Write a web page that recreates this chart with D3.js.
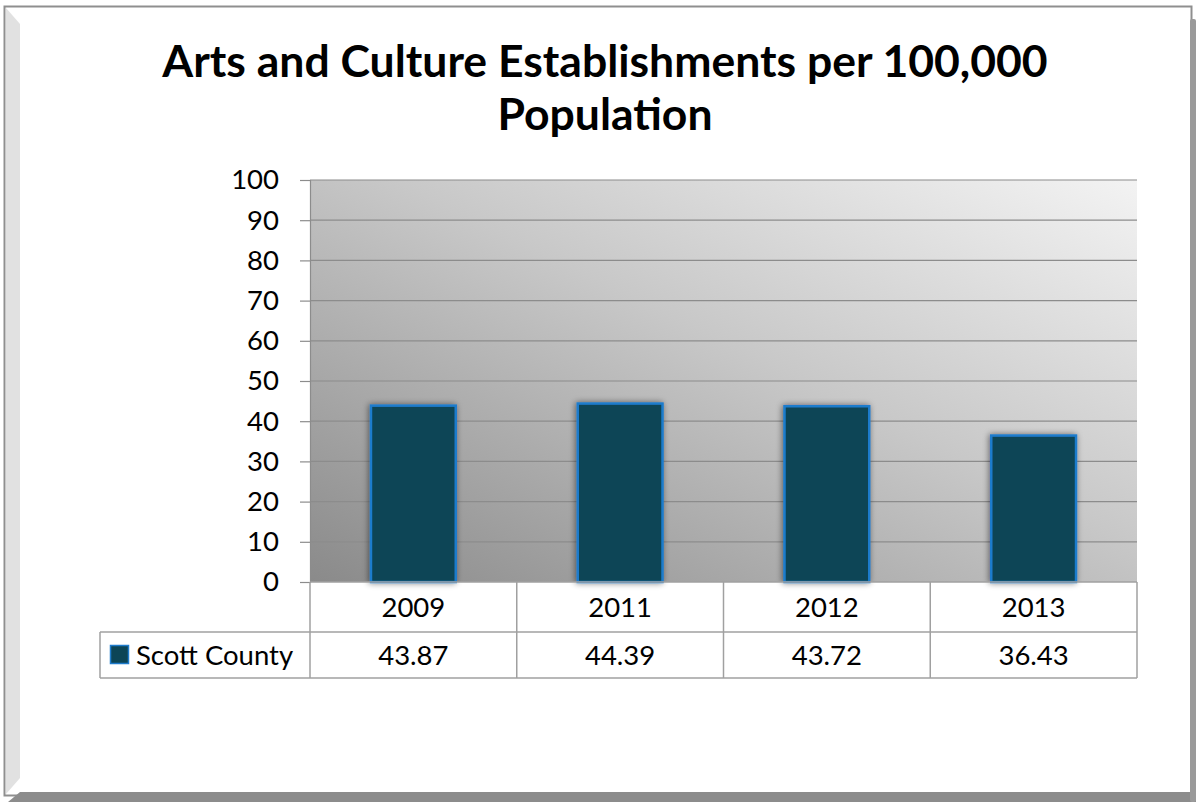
<!DOCTYPE html>
<html>
<head>
<meta charset="utf-8">
<script src="https://cdn.jsdelivr.net/npm/d3@7"></script>
<style>
  html, body { margin: 0; padding: 0; background: #ffffff; }
  svg { display: block; }
</style>
</head>
<body>
<svg id="chart" width="1196" height="802"></svg>
<script>
const titleLines = ["Arts and Culture Establishments per 100,000", "Population"];
const categories = ["2009", "2011", "2012", "2013"];
const seriesName = "Scott County";
const values = [43.87, 44.39, 43.72, 36.43];
const valueLabels = ["43.87", "44.39", "43.72", "36.43"];
const yTicks = [0, 10, 20, 30, 40, 50, 60, 70, 80, 90, 100];

const svg = d3.select("#chart");
const W = 1196, H = 802;
const font = "Lato, 'Open Sans', sans-serif";
const fs = 27.5;

// Frame
svg.append("rect").attr("x", 0).attr("y", 0).attr("width", W).attr("height", H).attr("fill", "#ffffff");
svg.append("rect").attr("x", 4.5).attr("y", 6.5).attr("width", 1187).attr("height", 789)
  .attr("fill", "#ffffff").attr("stroke", "#8f8f8f").attr("stroke-width", 2);
svg.append("polygon").attr("points", "6,8 20,24 20,778 6,794").attr("fill", "#e1e1e1");
svg.append("polygon").attr("points", "8,802 20,792 1196,792 1196,802").attr("fill", "#8c8c8c");
svg.append("rect").attr("x", 1190).attr("y", 19).attr("width", 6).attr("height", 783).attr("rx", 2).attr("fill", "#9a9a9a");

// Title
const title = svg.append("text").attr("text-anchor", "middle")
  .attr("font-family", font).attr("font-weight", "bold").attr("font-size", 44.5).attr("fill", "#000");
titleLines.forEach((t, i) => {
  title.append("tspan").attr("x", 605).attr("y", 77 + i * 53).text(t);
});

// Plot geometry
const plot = { left: 310, right: 1137, top: 180, bottom: 582 };
const x = d3.scaleBand().domain(categories).range([plot.left, plot.right]).paddingInner(0).paddingOuter(0);
const y = d3.scaleLinear().domain([0, 100]).range([plot.bottom, plot.top]);

// Gradient background
const defs = svg.append("defs");
const grad = defs.append("linearGradient").attr("id", "bg")
  .attr("x1", "0%").attr("y1", "100%").attr("x2", "100%").attr("y2", "0%");
grad.append("stop").attr("offset", "0%").attr("stop-color", "#8a8a8a");
grad.append("stop").attr("offset", "55%").attr("stop-color", "#c8c8c8");
grad.append("stop").attr("offset", "100%").attr("stop-color", "#f3f3f3");

const shadow = defs.append("filter").attr("id", "shadow").attr("x", "-20%").attr("y", "-20%").attr("width", "140%").attr("height", "140%");
shadow.append("feGaussianBlur").attr("in", "SourceAlpha").attr("stdDeviation", 3).attr("result", "b");
shadow.append("feOffset").attr("in", "b").attr("dx", -1).attr("dy", 0).attr("result", "o");
shadow.append("feComponentTransfer").attr("in", "o").attr("result", "o2")
  .append("feFuncA").attr("type", "linear").attr("slope", 0.5);
const m = shadow.append("feMerge");
m.append("feMergeNode").attr("in", "o2");
m.append("feMergeNode").attr("in", "SourceGraphic");

svg.append("rect").attr("x", plot.left).attr("y", plot.top)
  .attr("width", plot.right - plot.left).attr("height", plot.bottom - plot.top)
  .attr("fill", "url(#bg)");

// Gridlines
svg.append("g").selectAll("line").data(yTicks.filter(d => d > 0)).join("line")
  .attr("x1", plot.left).attr("x2", plot.right)
  .attr("y1", d => y(d)).attr("y2", d => y(d))
  .attr("stroke", "#8c8c8c").attr("stroke-width", 1.2);

// Y axis
const yAxis = d3.axisLeft(y).tickValues(yTicks).tickSize(10).tickPadding(21).tickFormat(d3.format("d"));
const ya = svg.append("g").attr("transform", `translate(${plot.left},0)`).call(yAxis);
ya.select(".domain").attr("stroke", "#8c8c8c").attr("stroke-width", 1.2);
ya.selectAll(".tick line").attr("stroke", "#8c8c8c").attr("stroke-width", 1.2);
ya.selectAll(".tick text").attr("font-family", font).attr("font-size", fs).attr("fill", "#000");

// Bars
const barW = x.bandwidth() * 0.41;
svg.append("g").selectAll("rect").data(values).join("rect")
  .attr("x", (d, i) => x(categories[i]) + (x.bandwidth() - barW) / 2)
  .attr("y", d => y(d))
  .attr("width", barW)
  .attr("height", d => y(0) - y(d))
  .attr("fill", "#0c4556")
  .attr("stroke", "#1e7bcc").attr("stroke-width", 2.5)
  .attr("filter", "url(#shadow)");

// Data table
const rowTop = plot.bottom, row1 = 632, row2 = 678, tableLeft = 100;
const tbl = svg.append("g").attr("stroke", "#a0a0a0").attr("stroke-width", 1.5).attr("fill", "none");
tbl.append("line").attr("x1", plot.left).attr("x2", plot.right).attr("y1", rowTop).attr("y2", rowTop);
tbl.append("line").attr("x1", tableLeft).attr("x2", plot.right).attr("y1", row1).attr("y2", row1);
tbl.append("line").attr("x1", tableLeft).attr("x2", plot.right).attr("y1", row2).attr("y2", row2);
tbl.append("line").attr("x1", tableLeft).attr("x2", tableLeft).attr("y1", row1).attr("y2", row2);
const vx = categories.map(c => x(c)).concat([plot.right]);
tbl.selectAll("line.v").data(vx).join("line").attr("class", "v")
  .attr("x1", d => d).attr("x2", d => d).attr("y1", rowTop).attr("y2", row2);

svg.append("g").selectAll("text").data(categories).join("text")
  .attr("x", d => x(d) + x.bandwidth() / 2).attr("y", 617)
  .attr("text-anchor", "middle").attr("font-family", font).attr("font-size", fs).attr("fill", "#000")
  .text(d => d);
svg.append("g").selectAll("text").data(valueLabels).join("text")
  .attr("x", (d, i) => x(categories[i]) + x.bandwidth() / 2).attr("y", 665)
  .attr("text-anchor", "middle").attr("font-family", font).attr("font-size", fs).attr("fill", "#000")
  .text(d => d);

// Legend key
svg.append("rect").attr("x", 110.5).attr("y", 645.5).attr("width", 18).attr("height", 18)
  .attr("fill", "#0c4556").attr("stroke", "#1e7bcc").attr("stroke-width", 1.5);
svg.append("text").attr("x", 136).attr("y", 665).attr("font-family", font).attr("font-size", fs)
  .attr("fill", "#000").text(seriesName);
</script>
</body>
</html>
